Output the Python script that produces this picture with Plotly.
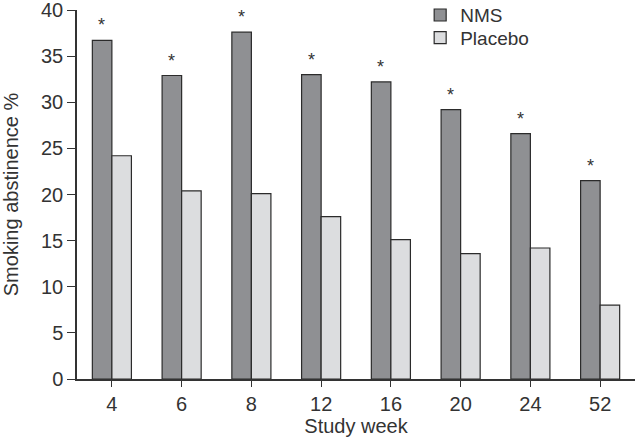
import plotly.graph_objects as go

# Smoking abstinence by study week
weeks = ["4", "6", "8", "12", "16", "20", "24", "52"]
nms = [36.7, 32.9, 37.6, 33.0, 32.2, 29.2, 26.6, 21.5]
placebo = [24.2, 20.4, 20.1, 17.6, 15.1, 13.6, 14.2, 8.0]

fig = go.Figure()
fig.add_trace(go.Bar(x=weeks, y=nms, name="NMS", legend="legend", showlegend=True,
                     marker=dict(color="#8f9093", line=dict(color="#2b2b2b", width=1.2))))
fig.add_trace(go.Bar(x=weeks, y=placebo, name="Placebo", legend="legend2", showlegend=True,
                     marker=dict(color="#dcdddf", line=dict(color="#2b2b2b", width=1.2))))

# asterisks over the NMS bars (category index, since labels look numeric)
for i, v in enumerate(nms):
    fig.add_annotation(x=i, y=v, text="*", showarrow=False,
                       xshift=-10, yshift=15,
                       font=dict(size=18, color="#333"))

leg = dict(x=0.615, xanchor="left", yanchor="middle",
           font=dict(size=19), bgcolor="rgba(0,0,0,0)")

fig.update_layout(
    width=640, height=439,
    margin=dict(l=77, r=5, t=10, b=60, autoexpand=False),
    paper_bgcolor="white", plot_bgcolor="white",
    barmode="group", bargap=0.44, bargroupgap=0,
    showlegend=True,
    font=dict(family="Liberation Sans, Arial, sans-serif", size=20, color="#333"),
    legend=dict(leg, y=0.986),
    legend2=dict(leg, y=0.925),
)
fig.update_xaxes(type="category", range=[-0.5, 7.5], automargin=False,
                 showline=True, linecolor="#333", linewidth=1.5,
                 ticks="outside", ticklen=6, tickcolor="#333",
                 tickfont=dict(size=20), ticklabeloverflow="allow",
                 title=dict(text="Study week", font=dict(size=20), standoff=3))
fig.update_yaxes(range=[0, 40], dtick=5, showgrid=False, zeroline=False,
                 automargin=False, ticklabeloverflow="allow",
                 showline=True, linecolor="#333", linewidth=1.5,
                 ticks="outside", ticklen=8, tickcolor="#333",
                 tickfont=dict(size=20),
                 title=dict(text="Smoking abstinence %", font=dict(size=20), standoff=18))

# drop the default page margin so the figure sits at the window's corner
fig.write_html("out.html", config={"displayModeBar": False},
               post_script="document.body.style.margin='0';")
